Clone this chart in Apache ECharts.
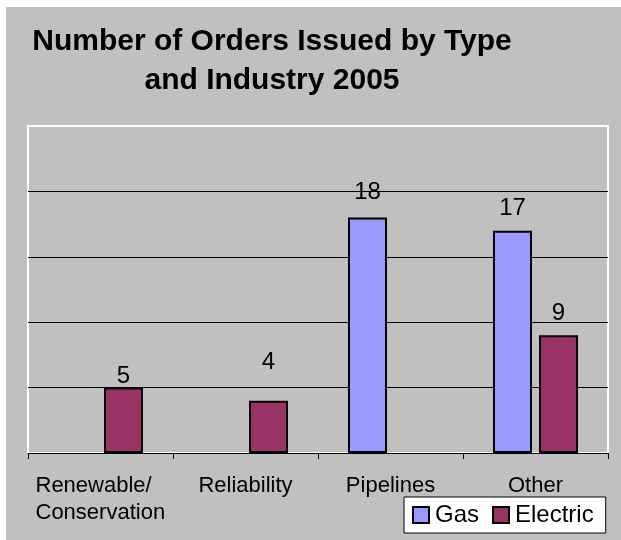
<!DOCTYPE html>
<html>
<head>
<meta charset="utf-8">
<script src="https://cdn.jsdelivr.net/npm/echarts@6/dist/echarts.min.js"></script>
<style>
html,body{margin:0;padding:0;background:#fff;}
#chart{width:621px;height:540px;}
</style>
</head>
<body>
<div id="chart"></div>
<script>
const categories = ['Renewable/\nConservation', 'Reliability', 'Pipelines', 'Other'];
const gasValues = [null, null, 18, 17];
const electricValues = [5, 4, null, 9];
const yMin = 0, yMax = 25, yInterval = 5;
const titleText = 'Number of Orders Issued by Type\nand Industry 2005';

// label distance nudges (styling only)
const gasLabelDist = [10, 10, 13, 10];
const elecLabelDist = [-1, 26, 10, 10];

const FONT = "'Liberation Sans', Arial, sans-serif";

function buildData(values, dists) {
  return values.map((v, i) => ({
    value: v,
    label: { distance: dists[i] }
  }));
}

const chart = echarts.init(document.getElementById('chart'));
chart.setOption({
  animation: false,
  backgroundColor: '#ffffff',
  textStyle: { fontFamily: FONT },
  graphic: [
    { type: 'rect', z: -100, silent: true, shape: { x: 6, y: 7, width: 615, height: 533 }, style: { fill: '#C0C0C0' } },
    { type: 'text', x: 272, y: 22, silent: true,
      style: { text: titleText, fontFamily: FONT, fontSize: 30, fontWeight: 'bold', fill: '#000', textAlign: 'center', lineHeight: 39 } }
  ],
  grid: { left: 28, right: 13, top: 126, bottom: 87, show: true, backgroundColor: 'transparent', borderColor: '#ffffff', borderWidth: 2 },
  legend: {
    left: 404, top: 497,
    backgroundColor: '#ffffff', borderColor: '#000', borderWidth: 1,
    padding: [6, 12, 6, 8],
    itemWidth: 16, itemHeight: 16, itemGap: 13,
    icon: 'rect',
    textStyle: { fontFamily: FONT, fontSize: 24, color: '#000', padding: [0, 0, 0, 1] },
    data: ['Gas', 'Electric']
  },
  xAxis: {
    type: 'category',
    data: categories,
    axisLine: { lineStyle: { color: '#000', width: 1 } },
    axisTick: { show: true, length: 6, lineStyle: { color: '#000' } },
    axisLabel: {
      fontFamily: FONT, fontSize: 22, color: '#000', margin: 19, lineHeight: 27,
      interval: 0,
      formatter: function (v) {
        if (v.indexOf('\n') >= 0) {
          return v.split('\n').map(s => '{l|' + s + '}').join('\n');
        }
        return v;
      },
      rich: { l: { fontFamily: FONT, fontSize: 22, color: '#000', lineHeight: 27, width: 130, align: 'left' } }
    }
  },
  yAxis: {
    type: 'value', min: yMin, max: yMax, interval: yInterval,
    axisLine: { show: false }, axisTick: { show: false }, axisLabel: { show: false },
    splitLine: { show: true, showMinLine: false, showMaxLine: false, lineStyle: { color: '#000', width: 1 } }
  },
  series: [
    {
      name: 'Gas', type: 'bar', data: buildData(gasValues, gasLabelDist),
      barWidth: 39, barGap: '18%',
      itemStyle: { color: '#9999FF', borderColor: '#000', borderWidth: 2 },
      label: { show: true, position: 'top', fontFamily: FONT, fontSize: 24, color: '#000' }
    },
    {
      name: 'Electric', type: 'bar', data: buildData(electricValues, elecLabelDist),
      barWidth: 39, barGap: '18%',
      itemStyle: { color: '#993366', borderColor: '#000', borderWidth: 2 },
      label: { show: true, position: 'top', fontFamily: FONT, fontSize: 24, color: '#000' }
    }
  ]
});
</script>
</body>
</html>
